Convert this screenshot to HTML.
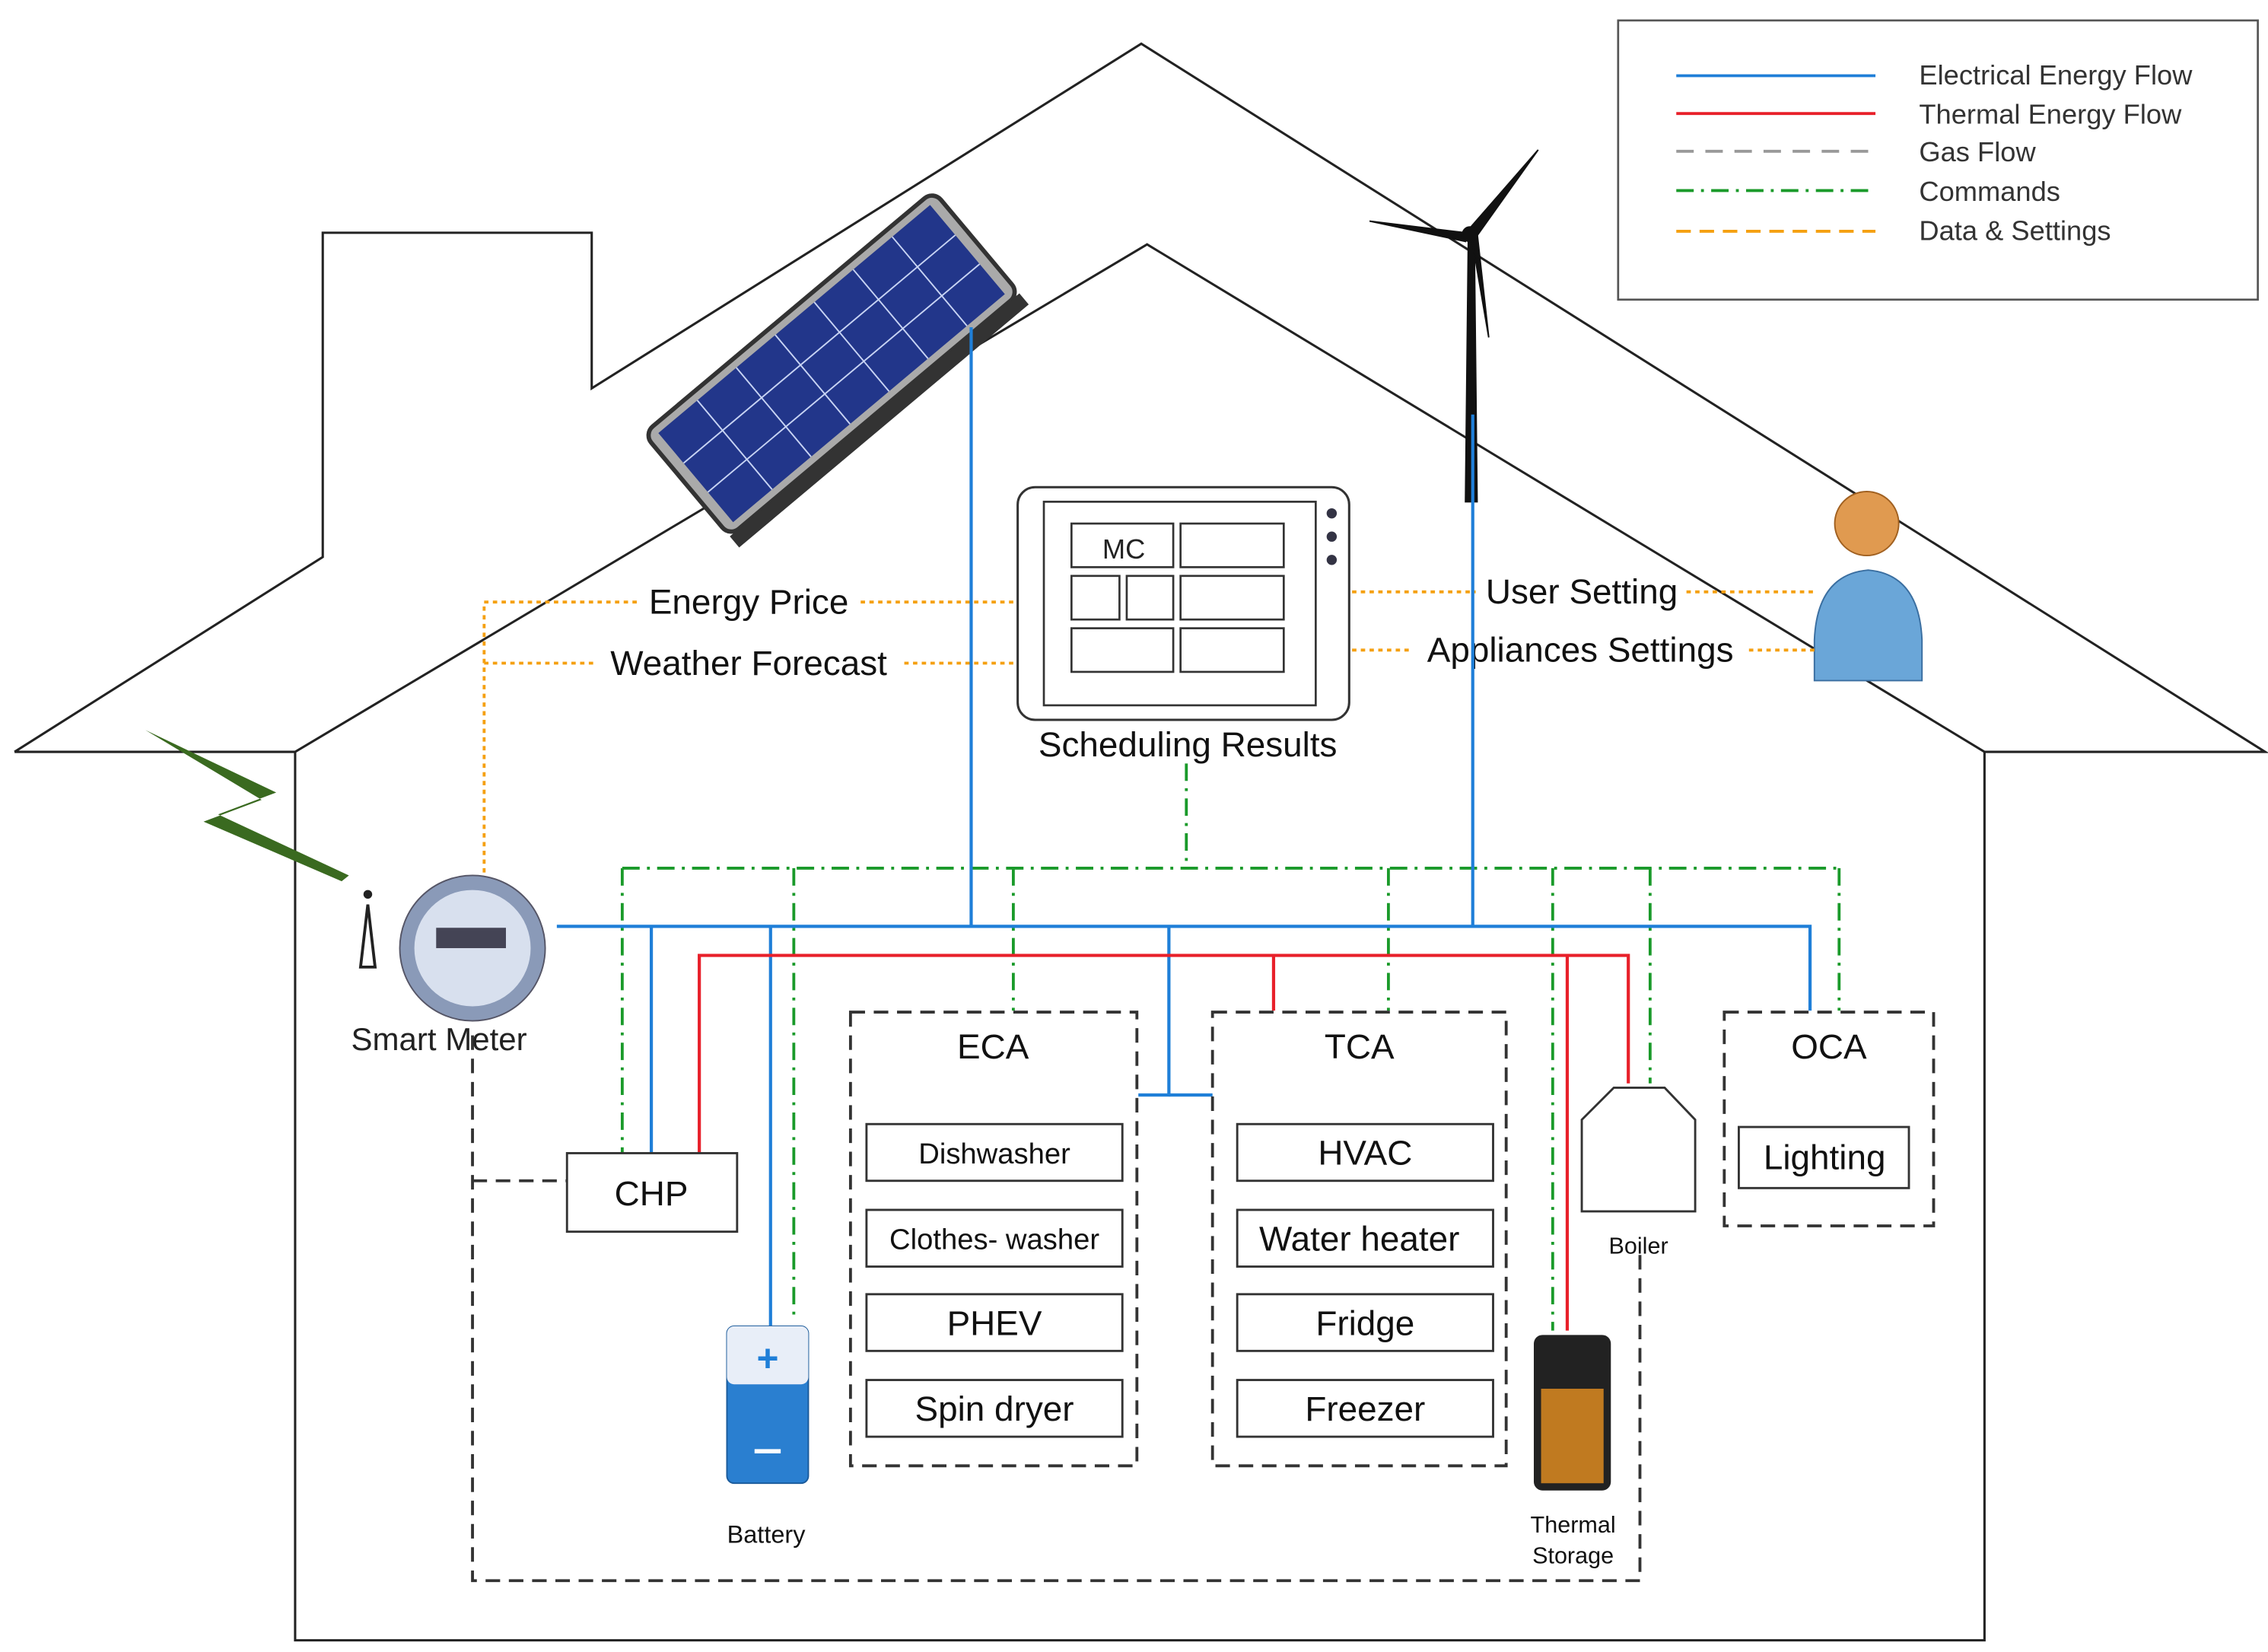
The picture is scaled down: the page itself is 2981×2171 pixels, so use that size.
<!DOCTYPE html>
<html><head><meta charset="utf-8"><style>
html,body{margin:0;padding:0;background:#fff;}
svg{display:block;}
text{font-family:"Liberation Sans",sans-serif;}
</style></head><body>
<svg width="2981" height="2171" viewBox="0 0 1560 1136" xmlns="http://www.w3.org/2000/svg">
<rect width="1560" height="1136" fill="#fff"/>
<!-- house outline -->
<g fill="none" stroke="#222" stroke-width="1.6">
<polyline points="10,517 222,383 222,160 407,160 407,267 785,30 1558,517 1365,517 1365,1128 203,1128 203,517 10,517"/>
<polyline points="203,517 789,168 1365,517"/>
</g>
<!-- legend -->
<rect x="1113" y="14" width="440" height="192" fill="#fff" stroke="#555" stroke-width="1.4"/>
<line x1="1153" y1="52" x2="1290" y2="52" stroke="#1f7fd8" stroke-width="2"/>
<line x1="1153" y1="78" x2="1290" y2="78" stroke="#e8202a" stroke-width="2"/>
<line x1="1153" y1="104" x2="1290" y2="104" stroke="#999" stroke-width="2" stroke-dasharray="12,8"/>
<line x1="1153" y1="131" x2="1290" y2="131" stroke="#1a9a2a" stroke-width="2" stroke-dasharray="12,5,2,5"/>
<line x1="1153" y1="159" x2="1290" y2="159" stroke="#f5a010" stroke-width="2" stroke-dasharray="10,6"/>
<g font-size="19" fill="#333">
<text x="1320" y="58">Electrical Energy Flow</text>
<text x="1320" y="85">Thermal Energy Flow</text>
<text x="1320" y="111">Gas Flow</text>
<text x="1320" y="138">Commands</text>
<text x="1320" y="165">Data &amp; Settings</text>
</g>
<!-- solar panel -->
<g transform="translate(572,250) rotate(-40)">
<rect x="-130" y="-46" width="260" height="92" rx="8" fill="#aaa" stroke="#333" stroke-width="3"/>
<rect x="-122" y="-40" width="244" height="80" fill="#22368a"/>
<g stroke="#c8d4f4" stroke-width="1">
<line x1="-87" y1="-40" x2="-87" y2="40"/><line x1="-52" y1="-40" x2="-52" y2="40"/><line x1="-17" y1="-40" x2="-17" y2="40"/><line x1="18" y1="-40" x2="18" y2="40"/><line x1="53" y1="-40" x2="53" y2="40"/><line x1="88" y1="-40" x2="88" y2="40"/>
<line x1="-122" y1="-13" x2="122" y2="-13"/><line x1="-122" y1="13" x2="122" y2="13"/>
</g>
<rect x="-130" y="46" width="260" height="10" fill="#333"/>
</g>
<!-- wind turbine -->
<g stroke="#111" fill="#111">
<polygon points="1010,160 1008,345 1016,345 1014,160"/>
<polygon points="1010,158 1058,103 1016,162"/>
<polygon points="1008,160 942,152 1008,166"/>
<polygon points="1012,162 1024,232 1016,160"/>
<circle cx="1011" cy="161" r="5"/>
</g>
<!-- person -->
<g>
<path d="M1248,440 Q1250,395 1285,392 Q1320,395 1322,440 L1322,468 L1248,468 Z" fill="#6aa6d8" stroke="#3a6ea0"/>
<circle cx="1284" cy="360" r="22" fill="#e09a50" stroke="#a06020"/>
</g>
<!-- tablet -->
<rect x="700" y="335" width="228" height="160" rx="12" fill="#fff" stroke="#333" stroke-width="1.6"/>
<rect x="718" y="345" width="187" height="140" fill="#fff" stroke="#333" stroke-width="1.4"/>
<g fill="#fff" stroke="#333" stroke-width="1.4">
<rect x="737" y="360" width="70" height="30"/><rect x="812" y="360" width="71" height="30"/>
<rect x="737" y="396" width="33" height="30"/><rect x="775" y="396" width="32" height="30"/><rect x="812" y="396" width="71" height="30"/>
<rect x="737" y="432" width="70" height="30"/><rect x="812" y="432" width="71" height="30"/>
</g>
<text x="773" y="384" font-size="19" text-anchor="middle" fill="#222">MC</text>
<g fill="#334"><circle cx="916" cy="353" r="3.5"/><circle cx="916" cy="369" r="3.5"/><circle cx="916" cy="385" r="3.5"/></g>
<!-- orange data lines -->
<g stroke="#f5a010" stroke-width="2" stroke-dasharray="3,3" fill="none">
<polyline points="333,600 333,414 438,414"/><line x1="592" y1="414" x2="700" y2="414"/>
<line x1="333" y1="456" x2="408" y2="456"/><line x1="622" y1="456" x2="700" y2="456"/>
<line x1="930" y1="407" x2="1015" y2="407"/><line x1="1160" y1="407" x2="1250" y2="407"/>
<line x1="930" y1="447" x2="970" y2="447"/><line x1="1203" y1="447" x2="1250" y2="447"/>
</g>
<g font-size="24" fill="#111" text-anchor="middle">
<text x="515" y="422">Energy Price</text>
<text x="515" y="464">Weather Forecast</text>
<text x="1088" y="415">User Setting</text>
<text x="1087" y="455">Appliances Settings</text>
<text x="817" y="520">Scheduling Results</text>
</g>
<!-- green commands -->
<g stroke="#1a9a2a" stroke-width="2" stroke-dasharray="12,5,2,5" fill="none">
<line x1="816" y1="525" x2="816" y2="597"/>
<line x1="428" y1="597" x2="1265" y2="597"/>
<line x1="428" y1="597" x2="428" y2="795"/>
<line x1="546" y1="597" x2="546" y2="905"/>
<line x1="697" y1="597" x2="697" y2="695"/>
<line x1="955" y1="597" x2="955" y2="695"/>
<line x1="1068" y1="597" x2="1068" y2="915"/>
<line x1="1135" y1="597" x2="1135" y2="745"/>
<line x1="1265" y1="597" x2="1265" y2="695"/>
</g>
<!-- blue electrical -->
<g stroke="#1f7fd8" stroke-width="2.2" fill="none">
<line x1="668" y1="225" x2="668" y2="637"/>
<line x1="1013" y1="285" x2="1013" y2="637"/>
<polyline points="383,637 1245,637 1245,695"/>
<line x1="448" y1="637" x2="448" y2="793"/>
<line x1="530" y1="637" x2="530" y2="915"/>
<polyline points="804,637 804,753 783,753"/>
<line x1="804" y1="753" x2="834" y2="753"/>
</g>
<!-- red thermal -->
<g stroke="#e8202a" stroke-width="2.2" fill="none">
<polyline points="481,793 481,657 1120,657 1120,745"/>
<line x1="876" y1="657" x2="876" y2="695"/>
<line x1="1078" y1="657" x2="1078" y2="915"/>
</g>
<!-- big dashed box -->
<g stroke="#333" stroke-width="2" stroke-dasharray="10,6" fill="none">
<polyline points="325,712 325,1087 1128,1087 1128,860"/>
<line x1="325" y1="812" x2="390" y2="812"/>
<rect x="585" y="696" width="197" height="312"/>
<rect x="834" y="696" width="202" height="312"/>
<rect x="1186" y="696" width="144" height="147"/>
</g>
<!-- CHP -->
<rect x="390" y="793" width="117" height="54" fill="#fff" stroke="#333" stroke-width="1.5"/>
<text x="448" y="829" font-size="24" text-anchor="middle" fill="#111">CHP</text>
<g font-size="24" fill="#111" text-anchor="middle">
<text x="683" y="728">ECA</text><text x="935" y="728">TCA</text><text x="1258" y="728">OCA</text>
</g>
<g fill="#fff" stroke="#333" stroke-width="1.5">
<rect x="596" y="773" width="176" height="39"/><rect x="596" y="832" width="176" height="39"/>
<rect x="596" y="890" width="176" height="39"/><rect x="596" y="949" width="176" height="39"/>
<rect x="851" y="773" width="176" height="39"/><rect x="851" y="832" width="176" height="39"/>
<rect x="851" y="890" width="176" height="39"/><rect x="851" y="949" width="176" height="39"/>
<rect x="1196" y="775" width="117" height="42"/>
</g>
<g fill="#111" text-anchor="middle">
<text x="684" y="800" font-size="20">Dishwasher</text>
<text x="684" y="859" font-size="20">Clothes- washer</text>
<text x="684" y="918" font-size="24">PHEV</text>
<text x="684" y="977" font-size="24">Spin dryer</text>
<text x="939" y="801" font-size="24">HVAC</text>
<text x="935" y="860" font-size="24">Water heater</text>
<text x="939" y="918" font-size="24">Fridge</text>
<text x="939" y="977" font-size="24">Freezer</text>
<text x="1255" y="804" font-size="24">Lighting</text>
</g>
<!-- boiler -->
<path d="M1088,770 L1110,748 L1145,748 L1166,770 L1166,833 L1088,833 Z" fill="#fff" stroke="#333" stroke-width="1.5"/>
<text x="1127" y="862" font-size="16" text-anchor="middle" fill="#111">Boiler</text>
<!-- thermal storage -->
<rect x="1055" y="918" width="53" height="107" rx="6" fill="#222"/>
<rect x="1060" y="955" width="43" height="65" fill="#c07a20"/>
<text x="1082" y="1054" font-size="16" text-anchor="middle" fill="#111">Thermal</text>
<text x="1082" y="1075" font-size="16" text-anchor="middle" fill="#111">Storage</text>
<!-- battery -->
<rect x="500" y="912" width="56" height="108" rx="5" fill="#2a7fd0" stroke="#1a5a9a"/>
<rect x="500" y="912" width="56" height="40" rx="5" fill="#e8eef8"/>
<text x="528" y="943" font-size="26" text-anchor="middle" fill="#1f7fd8" font-weight="bold">+</text>
<line x1="519" y1="998" x2="537" y2="998" stroke="#fff" stroke-width="3"/>
<text x="527" y="1061" font-size="17" text-anchor="middle" fill="#111">Battery</text>
<!-- smart meter -->
<polygon points="100,502 190,545 150,560 240,602 235,606 140,565 180,550" fill="#3a6a20"/>
<circle cx="325" cy="652" r="50" fill="#8a9ab8" stroke="#556"/>
<circle cx="325" cy="652" r="40" fill="#d8e0ee"/>
<rect x="300" y="638" width="48" height="14" fill="#445"/>
<path d="M248,665 L253,622 L258,665 Z" fill="none" stroke="#222" stroke-width="2"/>
<circle cx="253" cy="615" r="3" fill="#222"/>
<text x="302" y="722" font-size="22" text-anchor="middle" fill="#222" font-family="Liberation Serif, serif">Smart Meter</text>
</svg>
</body></html>
